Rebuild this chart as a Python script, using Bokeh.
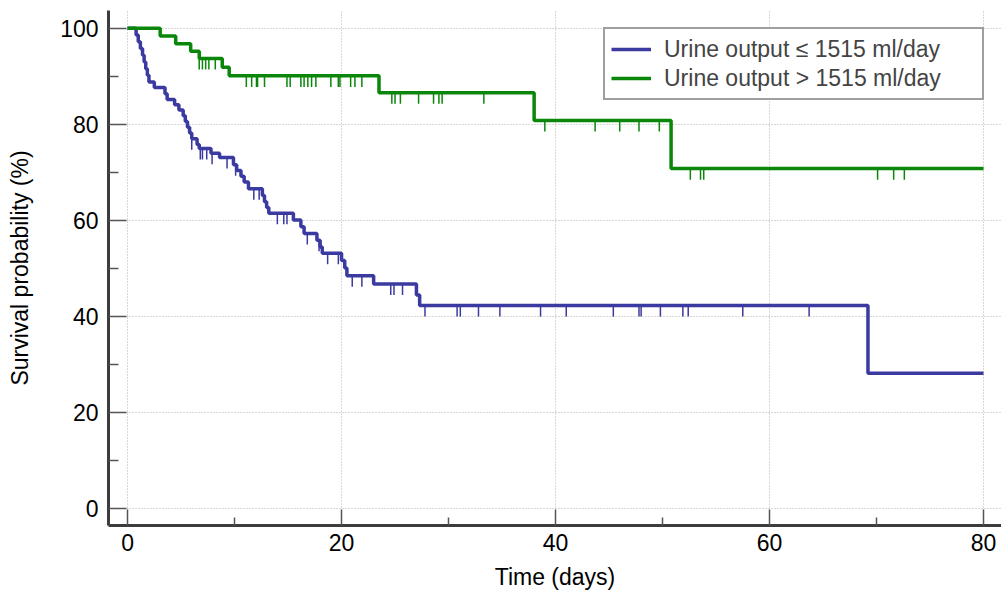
import numpy as np
from bokeh.plotting import figure
from bokeh.models import FixedTicker, Range1d, Legend, LegendItem
from bokeh.embed import file_html
from bokeh.resources import INLINE

# ---- data ----
end_time = 80
labels = ["Urine output \u2264 1515 ml/day", "Urine output > 1515 ml/day"]

blue_times = [0.8, 1.0, 1.2, 1.4, 1.55, 1.7, 1.85, 2.0, 2.5, 3.5, 3.7, 4.4, 4.8, 5.2,
              5.4, 5.6, 5.8, 6.0, 6.5, 6.7, 7.8, 8.6, 9.9, 10.2, 10.6, 10.9, 11.3,
              12.6, 12.8, 13.0, 13.2, 15.5, 16.2, 16.5, 17.7, 18.0, 18.2, 20.0, 20.3,
              20.5, 23.0, 27.0, 27.3, 69.2]
blue_surv = [98.6, 97.2, 95.8, 94.4, 93.0, 91.6, 90.2, 88.8, 87.7, 86.4, 85.2, 84.1, 83.0, 81.8,
             80.6, 79.4, 78.2, 77.0, 75.8, 75.0, 74.0, 73.1, 71.6, 70.4, 69.2, 68.0, 66.6,
             65.2, 63.9, 62.7, 61.5, 60.1, 58.7, 57.3, 55.9, 54.5, 53.2, 51.7, 50.1,
             48.5, 46.8, 44.5, 42.3, 28.2]
blue_censor = [6.0, 6.8, 7.0, 7.4, 7.9, 9.3, 10.1, 11.8, 12.3, 14.0, 14.6, 14.9, 16.8, 17.9,
               18.7, 19.7, 21.0, 21.9, 24.6, 24.9, 25.7, 27.8, 30.8, 31.1, 32.8, 34.8, 38.6,
               41.0, 45.4, 47.8, 48.0, 49.8, 51.9, 52.4, 57.5, 63.7]

green_times = [3.05, 4.5, 5.9, 6.7, 8.85, 9.5, 23.5, 38.0, 50.8]
green_surv = [98.4, 96.8, 95.2, 93.7, 91.9, 90.1, 86.6, 80.8, 70.8]
green_censor = [6.7, 7.0, 7.3, 7.6, 8.2, 11.1, 11.6, 12.05, 12.15, 12.8, 14.9, 15.2, 16.2, 16.5,
                16.85, 17.2, 17.6, 19.0, 19.7, 19.85, 20.85, 21.25, 21.9, 24.7, 25.0, 25.5,
                27.2, 28.6, 29.1, 29.4, 33.3, 39.0, 43.7, 46.0, 47.8, 49.7, 52.6, 53.55,
                53.85, 70.1, 71.6, 72.6]

x_ticks = [0, 20, 40, 60, 80]
x_minor = [10, 30, 50, 70]
y_ticks = [0, 20, 40, 60, 80, 100]
y_minor = [10, 30, 50, 70, 90]

BLUE = "#3a3aa0"
GREEN = "#0a870a"
FONT = "Liberation Sans"
FS = "23px"
TICK_LEN = 2.3


def level_at(times, surv, t):
    lvl = 100.0
    for ti, si in zip(times, surv):
        if ti <= t:
            lvl = si
    return lvl


W, H = 1001, 594
p = figure(width=W, height=H,
           x_range=Range1d(-1.78, 81.68), y_range=Range1d(-3.47, 103.7),
           output_backend="svg", toolbar_location=None,
           min_border_left=108, min_border_right=W - 1001, min_border_top=10,
           min_border_bottom=H - 525)
p.outline_line_color = None
p.background_fill_color = "white"

# grid
for g in (p.xgrid, p.ygrid):
    g.grid_line_color = "#b0b0b0"
    g.grid_line_dash = "1 2"
    g.grid_line_width = 1

p.xaxis.ticker = FixedTicker(ticks=x_ticks, minor_ticks=x_minor)
p.yaxis.ticker = FixedTicker(ticks=y_ticks, minor_ticks=y_minor)

for ax in p.axis:
    ax.axis_line_width = 3
    ax.axis_line_color = "#3c3c3c"
    ax.major_tick_out = 0
    ax.minor_tick_out = 0
    ax.major_tick_line_color = "#555555"
    ax.minor_tick_line_color = "#555555"
    ax.major_tick_line_width = 1.5
    ax.minor_tick_line_width = 1.5
    ax.major_label_text_font = FONT
    ax.major_label_text_font_size = FS
    ax.major_label_text_color = "black"
    ax.axis_label_text_font = FONT
    ax.axis_label_text_font_size = FS
    ax.axis_label_text_font_style = "normal"
    ax.axis_label_text_color = "black"

p.xaxis.major_tick_in = 16
p.xaxis.minor_tick_in = 8
p.yaxis.major_tick_in = 18
p.yaxis.minor_tick_in = 10
p.xaxis.major_label_standoff = 8
p.yaxis.major_label_standoff = 10
p.xaxis.axis_label_standoff = 10
p.yaxis.axis_label_standoff = 24
p.xaxis.axis_label = "Time (days)"
p.yaxis.axis_label = "Survival probability (%)"

# curves
bx = [0] + blue_times + [end_time]
by = [100] + blue_surv + [blue_surv[-1]]
gx = [0] + green_times + [end_time]
gy = [100] + green_surv + [green_surv[-1]]

r_blue = p.step(bx, by, mode="after", line_color=BLUE, line_width=3.5)
r_green = p.step(gx, gy, mode="after", line_color=GREEN, line_width=3.5)

# censor marks
bl = [level_at(blue_times, blue_surv, t) for t in blue_censor]
p.segment(x0=blue_censor, y0=bl, x1=blue_censor, y1=[v - TICK_LEN for v in bl],
          line_color=BLUE, line_width=1.5)
gl = [level_at(green_times, green_surv, t) for t in green_censor]
p.segment(x0=green_censor, y0=gl, x1=green_censor, y1=[v - TICK_LEN for v in gl],
          line_color=GREEN, line_width=1.5)

legend = Legend(items=[LegendItem(label=labels[0], renderers=[r_blue]),
                       LegendItem(label=labels[1], renderers=[r_green])],
                location="top_right", margin=17, padding=6, spacing=1,
                glyph_width=40, glyph_height=28, label_standoff=13,
                label_text_font=FONT, label_text_font_size=FS,
                label_width=312,
                border_line_color="#404040", border_line_width=2,
                background_fill_alpha=1)
legend.margin = 17
p.add_layout(legend)

open("out.html", "w").write(file_html(p, INLINE))
